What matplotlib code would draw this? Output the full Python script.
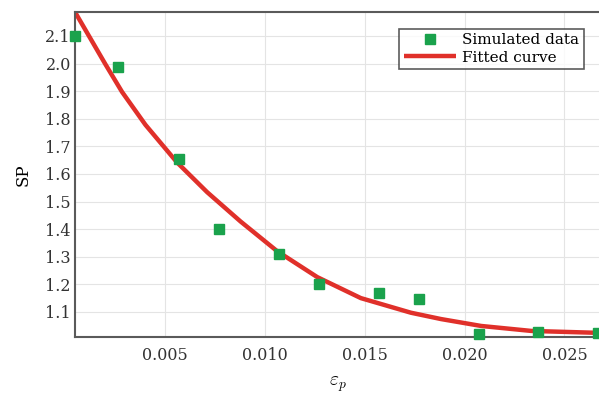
import matplotlib
matplotlib.use("Agg")
import matplotlib.pyplot as plt

# simulated points
eps_sim = [0.0005, 0.00264, 0.0057, 0.0077, 0.0107, 0.0127, 0.0157, 0.0177, 0.0207, 0.0237, 0.0267]
sp_sim = [2.10, 1.988, 1.654, 1.40, 1.31, 1.20, 1.167, 1.145, 1.02, 1.028, 1.025]

# fitted curve
eps_fit = [0.00048, 0.0020, 0.00284, 0.00401, 0.00559, 0.00710, 0.00877, 0.01061,
           0.01262, 0.01480, 0.01731, 0.01882, 0.02083, 0.02334, 0.02671, 0.0269]
sp_fit = [2.187, 1.998, 1.897, 1.778, 1.642, 1.534, 1.428, 1.320,
          1.226, 1.150, 1.097, 1.074, 1.049, 1.031, 1.024, 1.024]

xticks = [0.005, 0.010, 0.015, 0.020, 0.025]
yticks = [1.1, 1.2, 1.3, 1.4, 1.5, 1.6, 1.7, 1.8, 1.9, 2.0, 2.1]

plt.rcParams['font.family'] = ['DejaVu Serif']
plt.rcParams['mathtext.fontset'] = 'cm'

fig = plt.figure(figsize=(5.99, 3.93), dpi=100)
ax = fig.add_axes([0.1252, 0.1425, 0.877, 0.827])

ax.plot(eps_fit, sp_fit, c='#e0302a', lw=3.2, label='Fitted curve', zorder=2,
        solid_capstyle='butt', solid_joinstyle='round')
ax.plot(eps_sim, sp_sim, 's', c='#1aa24c', ms=7, label='Simulated data', zorder=3, clip_on=False)

ax.set_xlim(0.00048, 0.0268)
ax.set_ylim(1.009, 2.187)
ax.set_xticks(xticks)
ax.set_xticklabels([f"{t:.3f}" for t in xticks])
ax.set_yticks(yticks)
ax.set_yticklabels([f"{t:.1f}" for t in yticks])
ax.tick_params(axis='both', length=0, labelsize=11.5, colors='#333333')
ax.tick_params(axis='x', pad=7)
ax.tick_params(axis='y', pad=3)
ax.grid(True, color='#e4e4e4', lw=0.8)
ax.set_axisbelow(True)
for s in ax.spines.values():
    s.set_color('#5a5a5a')
    s.set_linewidth(1.5)
ax.spines['right'].set_visible(False)

ax.set_xlabel(r'$\varepsilon_p$', fontsize=14, labelpad=8)
ax.set_ylabel('SP', fontsize=12, labelpad=10)

handles, labels = ax.get_legend_handles_labels()
leg = ax.legend(handles[::-1], labels[::-1], loc='upper right', bbox_to_anchor=(0.968, 0.948),
                fancybox=False, edgecolor='#333333', fontsize=11, handlelength=3.4,
                borderpad=0.3, labelspacing=0.2, handletextpad=0.4, borderaxespad=0.0)
leg.get_frame().set_linewidth(1.2)

fig.savefig('out.png', dpi=100)
